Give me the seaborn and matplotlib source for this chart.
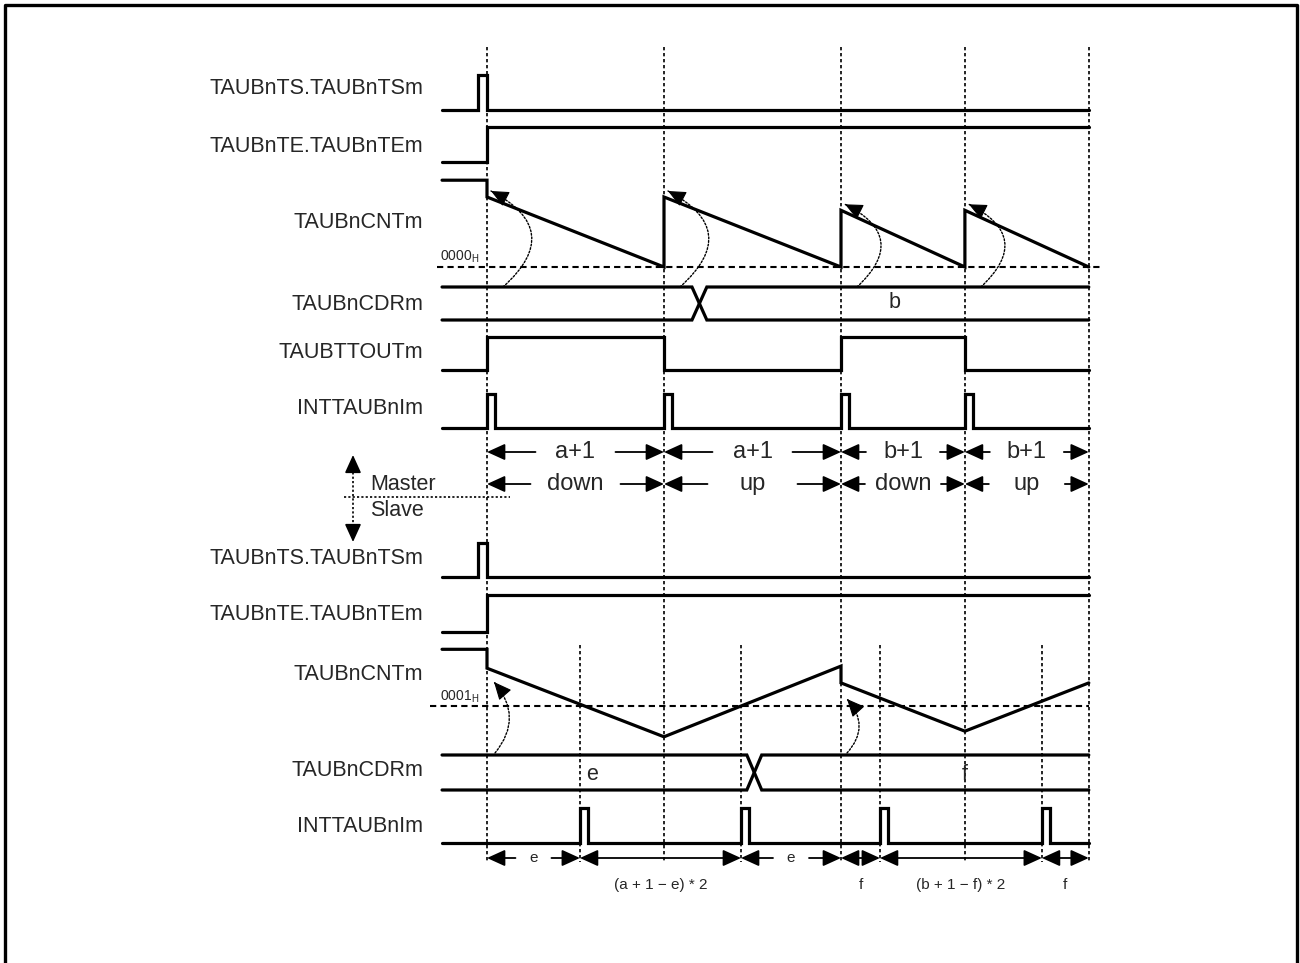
import matplotlib
matplotlib.use("Agg")
import matplotlib.pyplot as plt
from matplotlib.patches import FancyArrowPatch
import numpy as np
import seaborn as sns

# timing data in time units (master period a+1 = 10, b+1 = 7)
master_bounds = [0, 10, 20, 27, 34]
master_len_labels = ["a+1", "a+1", "b+1", "b+1"]
master_dir_labels = ["down", "up", "down", "up"]
master_int_times = [0, 10, 20, 27]
master_tout_edges = [0, 10, 20, 27]
master_cnt_pre = 12.4
master_cnt_peaks = [10, 10, 8.1, 8.1]
master_cdr_change = 12.0
master_cdr_values = ["", "b"]

slave_int_times = [5.25, 14.35, 22.2, 31.35]
slave_cnt_pre = 8.1
slave_cnt_t = [0, 0, 10, 20, 20, 27, 34]
slave_cnt_v = [8.1, 5.4, -4.4, 5.7, 3.3, -3.6, 3.3]
slave_cdr_change = 15.1
slave_cdr_values = ["e", "f"]
slave_span_bounds = [0, 5.25, 14.35, 20, 22.2, 31.35, 34]
slave_span_labels = ["e", "(a + 1 \u2212 e) * 2", "e", "f", "(b + 1 \u2212 f) * 2", "f"]
slave_span_inline = [True, False, True, False, False, False]

row_labels_master = ["TAUBnTS.TAUBnTSm", "TAUBnTE.TAUBnTEm", "TAUBnCNTm",
                     "TAUBnCDRm", "TAUBTTOUTm", "INTTAUBnIm"]
row_labels_slave = ["TAUBnTS.TAUBnTSm", "TAUBnTE.TAUBnTEm", "TAUBnCNTm",
                    "TAUBnCDRm", "INTTAUBnIm"]

ts_pulse = [-0.5, 0]
pulse_w = 0.45
t_start, t_end = -2.54, 34

# layout (pixels)
X0, PXU = 487, 17.7
LABEL_X = 423
master_label_y = [88, 146, 222, 305, 352, 408]
slave_label_y = [558, 614, 674, 771, 826]

sns.set_theme(style="white")
plt.rcParams["font.family"] = ["Liberation Sans", "DejaVu Sans"]

K = "black"
LW = 2.3
DOT = (0, (2, 1.6))
FS = 15.5


def px(x):
    return (x - X0) / PXU


fig = plt.figure(figsize=(13, 9.63), dpi=100)
ax = fig.add_axes([0, 0, 1, 1])
ax.set_xlim(px(0), px(1300))
ax.set_ylim(963, 0)
ax.axis("off")


def wave(xs, ys):
    sns.lineplot(x=xs, y=ys, sort=False, estimator=None, color=K, lw=LW,
                 solid_joinstyle="miter", ax=ax)


def digital(edges, base, h, init=0):
    xs, ys, lvl = [t_start], [init], init
    for e in edges:
        xs += [e, e]
        ys += [lvl, 1 - lvl]
        lvl = 1 - lvl
    xs.append(t_end)
    ys.append(lvl)
    wave(xs, [base - v * h for v in ys])


def pulses(times):
    out = []
    for t in times:
        out += [t, t + pulse_w]
    return out


def bus(change, top, bot, hw=0.42):
    xs = [t_start, change - hw, change + hw, t_end]
    wave(xs, [top, top, bot, bot])
    wave(xs, [bot, bot, top, top])


HEAD = "head_length=1.1,head_width=0.5"


def arrow(p_from, p_to, style="-|>", lw=1.3):
    ax.annotate("", xy=p_to, xytext=p_from,
                arrowprops=dict(arrowstyle=f"{style},{HEAD}", color=K, lw=lw,
                                shrinkA=0, shrinkB=0, mutation_scale=10))


def harrow(xa, xb, y, style="-|>"):
    arrow((xa, y), (xb, y), style)


def split_arrow(a, b, y, text, half_gap, fs):
    c = (a + b) / 2
    g = half_gap / PXU
    harrow(c - g, a, y)
    harrow(c + g, b, y)
    ax.text(c, y, text, ha="center", va="center", fontsize=fs)


def curved(start, end, rad):
    # dotted arc, solid head placed along the end tangent
    ax.add_patch(FancyArrowPatch(start, end, connectionstyle=f"arc3,rad={rad}",
                                 arrowstyle="-", lw=1.0, ls=(0, (1.3, 1.3)),
                                 color=K, shrinkA=0, shrinkB=0))
    p0 = np.array([start[0] * PXU, -start[1]])
    p2 = np.array([end[0] * PXU, -end[1]])
    d = p2 - p0
    c1 = (p0 + p2) / 2 + rad * np.array([d[1], -d[0]])
    tan = (p2 - c1) / np.hypot(*(p2 - c1))
    back = p2 - tan * 15
    arrow((back[0] / PXU, -back[1]), end, lw=0.8)


# frame
ax.plot([px(5), px(5), px(1297), px(1297)], [975, 5, 5, 975], color=K, lw=2.4)

# vertical reference lines
for t in master_bounds:
    ax.plot([t, t], [47, 862], color=K, lw=1.2, ls=DOT)
for t in slave_int_times:
    ax.plot([t, t], [645, 862], color=K, lw=1.2, ls=DOT)

# row labels
for lab, y in zip(row_labels_master, master_label_y):
    ax.text(px(LABEL_X), y, lab, ha="right", va="center", fontsize=FS)
for lab, y in zip(row_labels_slave, slave_label_y):
    ax.text(px(LABEL_X), y, lab, ha="right", va="center", fontsize=FS)

# ---------------- master ----------------
digital(ts_pulse, 110, 35)
digital([0], 162, 35)

cnt0, cnt_u = 267, 7
cx, cv = [t_start, 0], [master_cnt_pre, master_cnt_pre]
for (a, b), pk in zip(zip(master_bounds[:-1], master_bounds[1:]), master_cnt_peaks):
    cx += [a, b]
    cv += [pk, 0]
wave(cx, [cnt0 - v * cnt_u for v in cv])
ax.plot([px(437), px(1100)], [cnt0, cnt0], color=K, lw=1.5, ls=(0, (3, 2)))
ax.text(px(440), 257, r"$\mathregular{0000_H}$", ha="left", va="center", fontsize=10)
for t, pk in zip(master_bounds[:-1], master_cnt_peaks):
    curved((t + 16 / PXU, 287), (t + 4 / PXU, cnt0 - pk * cnt_u - 6), 0.72)

bus(master_cdr_change, 287, 320)
ax.text(23.05, 303, master_cdr_values[1], ha="center", va="center", fontsize=FS)

digital(master_tout_edges, 370, 33)
digital(pulses(master_int_times), 428, 34)

for i, (a, b) in enumerate(zip(master_bounds[:-1], master_bounds[1:])):
    short = (b - a) < 8
    split_arrow(a, b, 452, master_len_labels[i], 37 if short else 40, 17)
    split_arrow(a, b, 484, master_dir_labels[i], 38 if short else 45, 17)

# master / slave divider
ax.plot([px(344), px(510)], [497, 497], color=K, lw=1.2, ls=(0, (1.3, 1.3)))
ax.plot([px(353)] * 2, [468, 530], color=K, lw=1.2, ls=(0, (1.3, 1.3)))
arrow((px(353), 470), (px(353), 455), lw=1.2)
arrow((px(353), 527), (px(353), 542), lw=1.2)
ax.text(px(370), 484, "Master", ha="left", va="center", fontsize=FS)
ax.text(px(370), 510, "Slave", ha="left", va="center", fontsize=FS)

# ---------------- slave ----------------
digital(ts_pulse, 577, 34)
digital([0], 632, 37)

s0 = 706
wave([t_start] + slave_cnt_t, [s0 - v * cnt_u for v in [slave_cnt_pre] + slave_cnt_v])
ax.plot([px(430), px(1089)], [s0, s0], color=K, lw=1.5, ls=(0, (3, 2)))
ax.text(px(440), 697, r"$\mathregular{0001_H}$", ha="left", va="center", fontsize=10)
curved((8 / PXU, 753), (7 / PXU, 682), 0.42)
curved((20 + 6 / PXU, 753), (20 + 6 / PXU, 699), 0.45)

bus(slave_cdr_change, 755, 790)
ax.text(px(592), 775, slave_cdr_values[0], ha="center", va="center", fontsize=FS)
ax.text(px(965), 775, slave_cdr_values[1], ha="center", va="center", fontsize=FS)

digital(pulses(slave_int_times), 843, 35)

for i, (a, b) in enumerate(zip(slave_span_bounds[:-1], slave_span_bounds[1:])):
    if slave_span_inline[i]:
        split_arrow(a, b, 858, slave_span_labels[i], 18, 11)
    else:
        harrow(a, b, 858, style="<|-|>")
        ax.text((a + b) / 2, 885, slave_span_labels[i], ha="center", va="center", fontsize=11)

fig.savefig("out.png", dpi=100, facecolor="white")
